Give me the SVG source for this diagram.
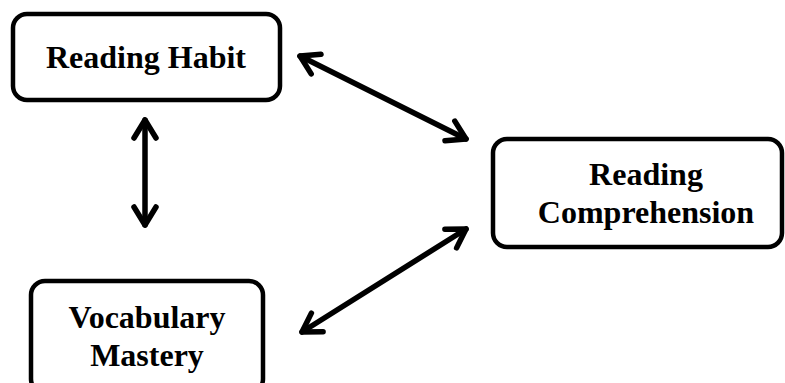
<svg xmlns="http://www.w3.org/2000/svg" width="785" height="383" viewBox="0 0 785 383">
<style>
.box{fill:#fff;stroke:#000;stroke-width:4.5}
.t{font-family:"Liberation Serif","Times New Roman",serif;font-weight:bold;font-size:32px;fill:#000;text-anchor:middle}
.c{stroke:#000;stroke-width:5.5;stroke-linecap:round;fill:none}
</style>
<defs>
<marker id="ah" markerUnits="userSpaceOnUse" markerWidth="40" markerHeight="40" refX="0" refY="0" viewBox="-20 -20 40 40" orient="auto-start-reverse" overflow="visible">
<path d="M -18 -11 L 0 0 L -18 11" fill="none" stroke="#000" stroke-width="5.5" stroke-linecap="round" stroke-linejoin="round"/>
</marker>
</defs>
<g id="habit">
<rect class="box" x="13" y="14" width="267" height="86" rx="14"/>
<text class="t" x="146" y="68">Reading Habit</text>
</g>
<g id="comprehension">
<rect class="box" x="493" y="139" width="289" height="108" rx="14"/>
<text class="t" x="646" y="185">Reading</text>
<text class="t" x="646" y="223">Comprehension</text>
</g>
<g id="vocabulary">
<rect class="box" x="31" y="281" width="232" height="112" rx="14"/>
<text class="t" x="147" y="328">Vocabulary</text>
<text class="t" x="147" y="366">Mastery</text>
</g>
<g id="connectors">
<line class="c" x1="300" y1="56" x2="466" y2="139" marker-start="url(#ah)" marker-end="url(#ah)"/>
<line class="c" x1="145" y1="120" x2="145" y2="225" marker-start="url(#ah)" marker-end="url(#ah)"/>
<line class="c" x1="302" y1="332" x2="466" y2="229" marker-start="url(#ah)" marker-end="url(#ah)"/>
</g>
</svg>
